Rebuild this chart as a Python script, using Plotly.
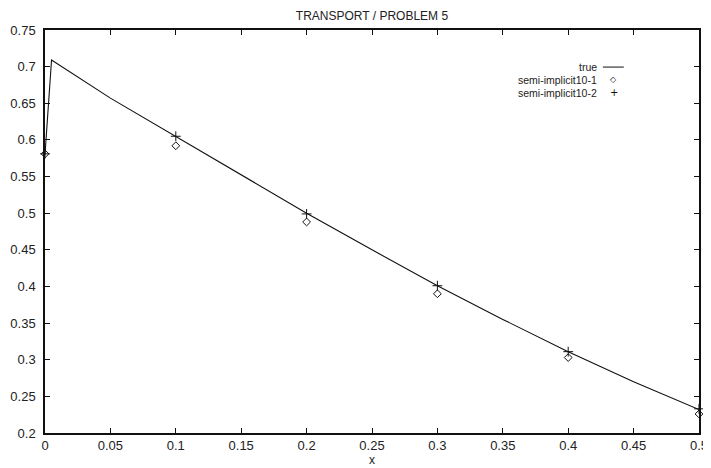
import plotly.graph_objects as go

# ---- data ----
x_true = [0.0, 0.005, 0.05, 0.1, 0.15, 0.2, 0.25, 0.3, 0.35, 0.4, 0.45, 0.5]
y_true = [0.58, 0.709, 0.657, 0.605, 0.552, 0.500, 0.450, 0.401, 0.355, 0.311, 0.270, 0.232]

x_pts = [0.0, 0.1, 0.2, 0.3, 0.4, 0.5]
y_semi1 = [0.581, 0.592, 0.488, 0.390, 0.303, 0.226]
y_semi2 = [0.581, 0.605, 0.499, 0.401, 0.311, 0.233]

x_ticks = [0, 0.05, 0.1, 0.15, 0.2, 0.25, 0.3, 0.35, 0.4, 0.45, 0.5]
x_tick_labels = ["0", "0.05", "0.1", "0.15", "0.2", "0.25", "0.3", "0.35", "0.4", "0.45", "0.5"]
y_ticks = [0.2, 0.25, 0.3, 0.35, 0.4, 0.45, 0.5, 0.55, 0.6, 0.65, 0.7, 0.75]
y_tick_labels = ["0.2", "0.25", "0.3", "0.35", "0.4", "0.45", "0.5", "0.55", "0.6", "0.65", "0.7", "0.75"]

series_names = ["true", "semi-implicit10-1", "semi-implicit10-2"]

FONT = "Liberation Sans, Arial, sans-serif"
INK = "#111111"

fig = go.Figure()
fig.add_trace(go.Scatter(x=x_true, y=y_true, mode="lines", name=series_names[0],
                         line=dict(color=INK, width=1.1), showlegend=False))
fig.add_trace(go.Scatter(x=x_pts, y=y_semi1, mode="markers", name=series_names[1], cliponaxis=False,
                         marker=dict(symbol="diamond-open", size=6, color=INK,
                                     line=dict(width=1, color=INK)), showlegend=False))
fig.add_trace(go.Scatter(x=x_pts, y=y_semi2, mode="markers", name=series_names[2], cliponaxis=False,
                         marker=dict(symbol="cross-thin", size=7, color=INK,
                                     line=dict(width=1, color=INK)), showlegend=False))

axis_common = dict(showgrid=False, zeroline=False, showline=True, linecolor=INK,
                   linewidth=1.5, mirror="ticks", ticks="inside", ticklen=5,
                   tickcolor=INK, tickwidth=1, automargin=False,
                   tickfont=dict(family=FONT, size=13, color="#222222"))

# gnuplot-style key (right-justified labels, sample on the right)
key_label_x = 0.846
key_sample_x0, key_sample_x1 = 0.853, 0.885
key_symbol_x = 0.870
key_rows = [0.908, 0.876, 0.844]
annotations = []
for name, ky in zip(series_names, key_rows):
    annotations.append(dict(xref="paper", yref="paper", x=key_label_x, y=ky, text=name,
                            showarrow=False, xanchor="right", yanchor="middle", borderpad=0,
                            font=dict(family=FONT, size=10.5, color="#222222")))
annotations.append(dict(xref="paper", yref="paper", x=key_symbol_x, y=key_rows[1], text="◇",
                        showarrow=False, xanchor="center", yanchor="middle", borderpad=0,
                        font=dict(family="DejaVu Sans", size=8, color=INK)))
annotations.append(dict(xref="paper", yref="paper", x=key_symbol_x, y=key_rows[2], text="+",
                        showarrow=False, xanchor="center", yanchor="middle", borderpad=0,
                        font=dict(family="DejaVu Sans", size=10, color=INK)))
shapes = [dict(type="line", xref="paper", yref="paper", x0=key_sample_x0, x1=key_sample_x1,
               y0=key_rows[0], y1=key_rows[0], line=dict(color=INK, width=1))]

fig.update_layout(
    width=703, height=460,
    margin=dict(l=37, r=12, t=22, b=35),
    paper_bgcolor="white", plot_bgcolor="white",
    title=dict(text="TRANSPORT / PROBLEM 5", x=0.5, xref="paper", xanchor="center",
               y=0.984, yanchor="middle",
               font=dict(family=FONT, size=12, color="#222222"), automargin=False),
    xaxis=dict(range=[0, 0.5], tickvals=x_ticks, ticktext=x_tick_labels,
               title=dict(text="x", standoff=0, font=dict(family=FONT, size=12, color="#222222")),
               **axis_common),
    yaxis=dict(range=[0.2, 0.75], tickvals=y_ticks, ticktext=y_tick_labels,
               ticklabelstandoff=5, **axis_common),
    annotations=annotations,
    shapes=shapes,
    showlegend=False,
)

fig.write_html("out.html")
